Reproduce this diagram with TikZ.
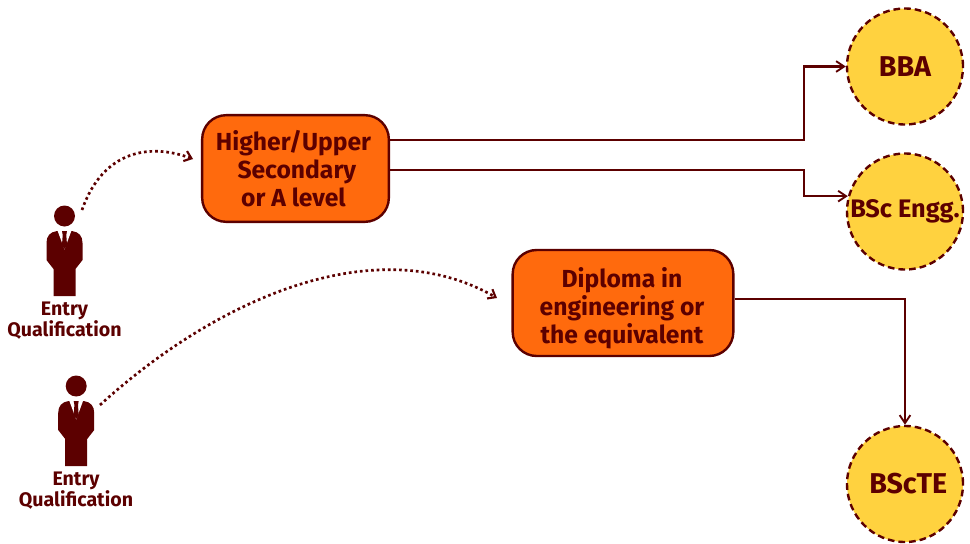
\documentclass[tikz,border=0pt]{standalone}
\usepackage{fontspec}
\setmainfont{Fira Sans}
\usetikzlibrary{arrows.meta}
\definecolor{dk}{HTML}{5C0000}
\definecolor{org}{HTML}{FF6A0D}
\definecolor{yel}{HTML}{FFD23F}
\tikzset{
  x=0.75pt,y=-0.75pt,
  boxnode/.style={draw=dk,fill=org,line width=1.8pt,rounded corners=18pt,inner sep=0pt},
  boxtext/.style={align=center,text=dk,inner sep=0pt,font=\bfseries\fontsize{18.5}{21}\selectfont},
  circnode/.style={circle,draw=dk,fill=yel,line width=1.8pt,dash pattern=on 5pt off 3pt,minimum size=87pt,inner sep=0pt,text=dk,font=\bfseries\fontsize{21.5}{24}\selectfont},
  lbl/.style={align=center,text=dk,inner sep=0pt,font=\bfseries\fontsize{14.7}{15}\selectfont},
  link/.style={draw=dk,line width=1.8pt,-{Straight Barb[length=6pt,width=8pt,line width=1.4pt]}},
  dots/.style={draw=dk,line width=2pt,dash pattern=on 2pt off 2.2pt,-{Straight Barb[length=5pt,width=8pt,line width=1.6pt]}}
}
\newcommand{\person}[2]{%
  \begin{scope}[shift={(#1,#2)}]
    \fill[dk] (64.5,216) circle[radius=10.5];
    \fill[dk] (57,231) .. controls (50,232) and (46.5,236) .. (46.5,243) -- (46.5,260) -- (53.5,269) -- (53.5,296) -- (75.5,296) -- (75.5,269) -- (82.5,260) -- (82.5,243) .. controls (82.5,236) and (79,232) .. (72,231) -- cycle;
    \fill[white] (57.5,230.5) -- (64.5,249.5) -- (71.5,230.5) -- cycle;
    \fill[dk] (62,231) -- (67,231) -- (66.3,235) -- (67,245) -- (64.5,249) -- (62,245) -- (62.7,235) -- cycle;
  \end{scope}}
\begin{document}
\begin{tikzpicture}
\useasboundingbox (0,0) rectangle (970,543);
\person{0}{0}
\person{11.7}{170}
\node[lbl] (q1) at (64.5,320.5) {Entry\\Qualification};
\node[lbl] (q2) at (76,490.5) {Entry\\Qualification};
\node[boxnode,minimum width=140pt,minimum height=80pt] (hs) at (295.5,168.5) {};
\node[boxtext] (hst) at (293.5,169) {Higher/Upper\\\hspace{5pt}Secondary\\or A level};
\node[boxnode,minimum width=165.5pt,minimum height=79.5pt] (dp) at (623,303) {};
\node[boxtext] (dpt) at (622,308.5) {Diploma in\\engineering or\\the equivalent};
\node[circnode] (bba) at (905,66.5) {BBA};
\node[circnode,font=\bfseries\fontsize{19}{21}\selectfont] (bsc) at (905,211.5) {BSc Engg.};
\node[circnode] (bte) at (905,484) {\hspace{5pt}BScTE};
\coordinate (s1) at (82,210);
\coordinate (e1) at (193,159);
\coordinate (s2) at (100,405);
\coordinate (e2) at (497,298);
\coordinate (j1) at (804,140);
\coordinate (j2) at (804,170);
\coordinate (j3) at (905,299);
\draw[link] (j1 -| hs.east) -- (j1) |- (bba.west);
\draw[link] (j2 -| hs.east) -- (j2) |- (bsc.165);
\draw[link] (j3 -| dp.east) -- (j3) -- (bte.north);
\draw[dots] (s1) .. controls (103,150) and (150,143) .. (e1);
\draw[dots] (s2) .. controls (215,300) and (375,228) .. (e2);
\end{tikzpicture}
\end{document}
